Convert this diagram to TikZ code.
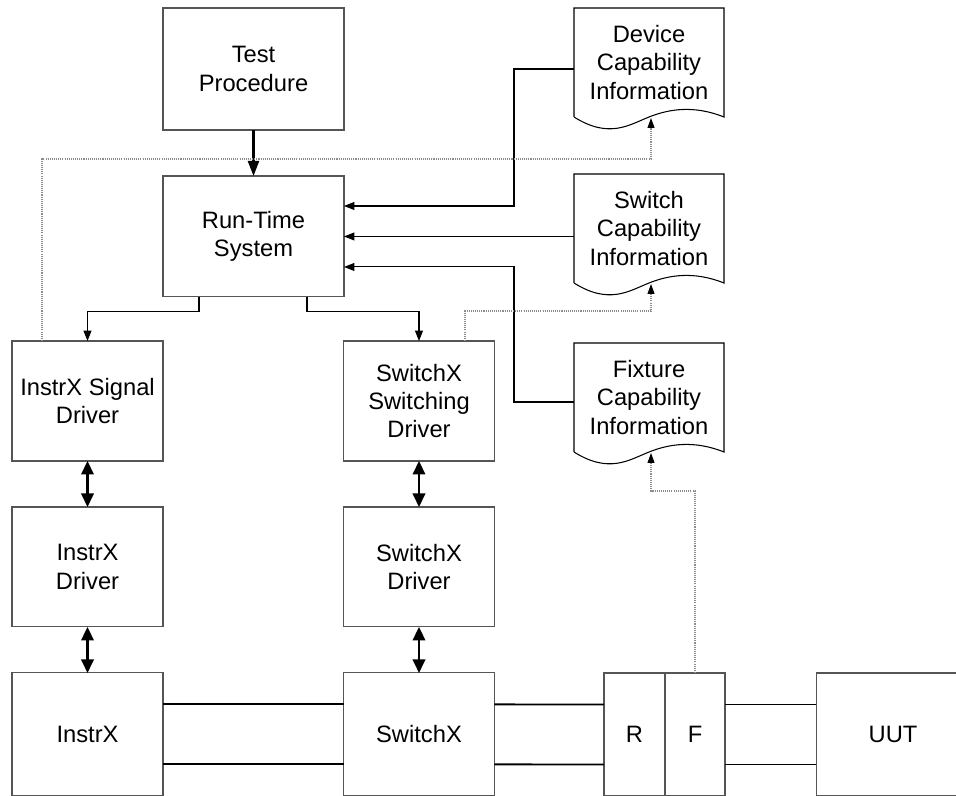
\documentclass[tikz,border=0pt]{standalone}
\usepackage{fontspec}
\setmainfont{Liberation Sans}
\usepackage{xcolor}
\definecolor{frame}{RGB}{85,85,85}
\definecolor{dots}{RGB}{140,140,140}
\usepackage{tikz}
\usetikzlibrary{arrows.meta,positioning,calc}

\begin{document}
\begin{tikzpicture}[
  x=0.02cm, y=-0.02cm,
  box/.style={rectangle,draw=frame,line width=0.6pt,
              minimum width=3.02cm,minimum height=2.4cm,
              inner sep=2pt,outer sep=0pt,align=center,
              font=\fontsize{13.5}{16}\selectfont},
  doc/.style={rectangle,minimum width=3cm,minimum height=2.18cm,
              inner sep=0pt,outer sep=0pt,align=center,
              font=\fontsize{13.5}{16}\selectfont},
  wire/.style={draw=black,line width=0.6pt,
               -{Triangle[length=0.21cm,width=0.16cm]}},
  feed/.style={draw=black,line width=1.2pt,
               -{Triangle[length=0.3cm,width=0.22cm]}},
  link/.style={draw=black,line width=1.2pt,
               {Triangle[length=0.27cm,width=0.25cm]}-{Triangle[length=0.27cm,width=0.25cm]}},
  bus/.style={draw=black,line width=1.1pt},
  ref/.style={draw=dots,line width=0.6pt,dash pattern=on 0.6pt off 0.6pt,
              -{Triangle[length=0.2cm,width=0.14cm,color=black]}},
  node distance=0.92cm,
]
  \useasboundingbox (0,0) rectangle (956,795);
  \clip (0,0) rectangle (956,795);

  %% control side
  \node[box,minimum width=3.62cm,minimum height=2.44cm](test) at (253.5,69) {Test\\Procedure};
  \node[box,minimum width=3.62cm,minimum height=2.42cm,below=of test](rts) {Run-Time\\System};

  %% instrument column
  \node[box](isd) at (87.5,401) {InstrX Signal\\Driver};
  \node[box,below=of isd](idrv) {InstrX\\Driver};
  \node[box,minimum height=2.46cm,below=of idrv](instr) {InstrX};

  %% switch column
  \node[box](ssd) at (419,401) {SwitchX\\Switching\\Driver};
  \node[box,below=of ssd](sdrv) {SwitchX\\Driver};
  \node[box,minimum height=2.46cm,below=of sdrv](swx) {SwitchX};

  %% receiver, fixture, UUT
  \node[box,minimum width=1.22cm,minimum height=2.46cm](rly) at (634.5,734.5) {R};
  \node[box,minimum width=1.2cm,minimum height=2.46cm,right=0pt of rly](fix) {F};
  \node[box,minimum width=3.08cm,minimum height=2.46cm](uut) at (893,734.5) {UUT};

  %% capability documents
  \node[doc](dcap) at (649,62.5) {Device\\Capability\\Information};
  \node[doc](scap) at (649,228.5) {Switch\\Capability\\Information};
  \node[doc](fcap) at (649,397.5) {Fixture\\Capability\\Information};
  \foreach \d in {dcap,scap,fcap}{
    \draw[black,line width=0.6pt] (\d.south west) -- (\d.north west) -- (\d.north east) -- (\d.south east)
      .. controls ($(\d.south east)+(-30,-12)$) and ($(\d.south east)+(-55,-8)$) .. ($(\d.south west)+(75,0)$)
      .. controls ($(\d.south west)+(55,8)$) and ($(\d.south west)+(35,22)$) .. (\d.south west);
    \coordinate (\d-in) at ($(\d.south west)+(77,1)$);
  }

  %% connectors
  \draw[feed] (test) -- (rts);
  \draw[wire] ([xshift=-1.09cm]rts.south) -- ++(0,15) -| (isd);
  \draw[wire] ([xshift=1.07cm]rts.south) -- ++(0,15) -| (ssd);
  \draw[wire] ([yshift=-0.13cm]dcap.west) -- ++(-60,0) |- ([yshift=0.61cm]rts.east);
  \draw[wire] (scap.west |- rts.east) -- (rts.east);
  \draw[wire] ([yshift=-0.09cm]fcap.west) -- ++(-60,0) |- ([yshift=-0.61cm]rts.east);

  \draw[ref] ([xshift=-0.91cm]isd.north) -- ++(0,-182) -| (dcap-in);
  \draw[ref] ([xshift=0.92cm]ssd.north) -- ++(0,-30) -| (scap-in);
  \draw[ref] (fix.north) -- ++(0,-182) -| (fcap-in);

  \foreach \a/\b in {isd/idrv,idrv/instr,ssd/sdrv,sdrv/swx}
    \draw[link] (\a) -- (\b);

  \foreach \a/\b in {instr/swx,swx/rly,fix/uut}
    \foreach \s in {0.6,-0.6}
      \draw[bus] ([yshift=\s cm]\a.east) -- ([yshift=\s cm]\b.west);
\end{tikzpicture}
\end{document}
